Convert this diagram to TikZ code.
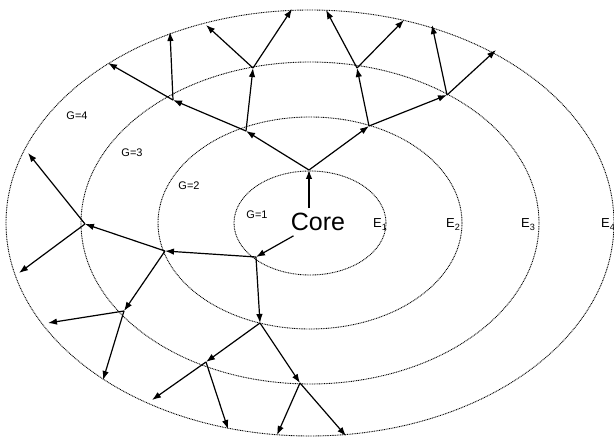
\documentclass[tikz,border=0pt]{standalone}
\usepackage{fontspec}
\setmainfont{Liberation Sans}
\usetikzlibrary{arrows.meta}

\begin{document}
\begin{tikzpicture}[x=1pt,y=-1pt,
  point/.style={coordinate},
  ring/.style={draw=black, line width=0.9pt, dash pattern=on 0.9pt off 0.8pt},
  link/.style={draw=black, line width=1.2pt, -{Latex[length=9pt,width=6.5pt]}},
  glabel/.style={font=\fontsize{11}{13}\selectfont, inner sep=0pt},
  elabel/.style={font=\fontsize{13}{15}\selectfont, inner sep=0pt, anchor=base west}]
\useasboundingbox (0,0) rectangle (614,441);
% generation rings
\draw[ring] (310,223) ellipse [x radius=76pt, y radius=52pt];
\draw[ring] (310,223) ellipse [x radius=152pt, y radius=106pt];
\draw[ring] (310,223) ellipse [x radius=229pt, y radius=161pt];
\draw[ring] (310,223) ellipse [x radius=304pt, y radius=213pt];
\node[glabel] (g1) at (257,215) {G=1};
\node[glabel] (g2) at (189,186) {G=2};
\node[glabel] (g3) at (132,153) {G=3};
\node[glabel] (g4) at (77,116) {G=4};
\node[elabel] (e1) at (373,228) {E\textsubscript{1}};
\node[elabel] (e2) at (446,228) {E\textsubscript{2}};
\node[elabel] (e3) at (521,228) {E\textsubscript{3}};
\node[elabel] (e4) at (601,228) {E\textsubscript{4}};
\node[font=\fontsize{25}{30}\selectfont, inner sep=0pt, outer sep=5pt] (core) at (318,222) {Core};
% generation 1
\node[point] (p1) at (309,170) {};
\node[point] (p2) at (256,257) {};
% generation 2
\node[point] (q1) at (369,126) {};
\node[point] (q2) at (246,131) {};
\node[point] (q3) at (165,251) {};
\node[point] (q4) at (260,323) {};
% generation 3
\node[point] (r1) at (357,68) {};
\node[point] (r2) at (447,95) {};
\node[point] (r3) at (253,68) {};
\node[point] (r4) at (173,100) {};
\node[point] (r5) at (85,224) {};
\node[point] (r6) at (124,311) {};
\node[point] (r7) at (206,362) {};
\node[point] (r8) at (300,383) {};
% generation 4
\node[point] (s1) at (326,10) {};
\node[point] (s2) at (404,20) {};
\node[point] (s3) at (432,25) {};
\node[point] (s4) at (496,50) {};
\node[point] (s5) at (206,25) {};
\node[point] (s6) at (292,9) {};
\node[point] (s7) at (170,32) {};
\node[point] (s8) at (108,63) {};
\node[point] (s9) at (28,153) {};
\node[point] (s10) at (19,273) {};
\node[point] (s11) at (48,323) {};
\node[point] (s12) at (103,380) {};
\node[point] (s13) at (152,400) {};
\node[point] (s14) at (228,429) {};
\node[point] (s15) at (277,435) {};
\node[point] (s16) at (346,436) {};
\draw[link] (core.north -| p1) -- (p1);
\draw[link] (core) -- (p2);
\draw[link] (p1) -- (q1);
\draw[link] (p1) -- (q2);
\draw[link] (p2) -- (q3);
\draw[link] (p2) -- (q4);
\draw[link] (q1) -- (r1);
\draw[link] (q1) -- (r2);
\draw[link] (q2) -- (r3);
\draw[link] (q2) -- (r4);
\draw[link] (q3) -- (r5);
\draw[link] (q3) -- (r6);
\draw[link] (q4) -- (r7);
\draw[link] (q4) -- (r8);
\draw[link] (r1) -- (s1);
\draw[link] (r1) -- (s2);
\draw[link] (r2) -- (s3);
\draw[link] (r2) -- (s4);
\draw[link] (r3) -- (s5);
\draw[link] (r3) -- (s6);
\draw[link] (r4) -- (s7);
\draw[link] (r4) -- (s8);
\draw[link] (r5) -- (s9);
\draw[link] (r5) -- (s10);
\draw[link] (r6) -- (s11);
\draw[link] (r6) -- (s12);
\draw[link] (r7) -- (s13);
\draw[link] (r7) -- (s14);
\draw[link] (r8) -- (s15);
\draw[link] (r8) -- (s16);
\end{tikzpicture}
\end{document}
